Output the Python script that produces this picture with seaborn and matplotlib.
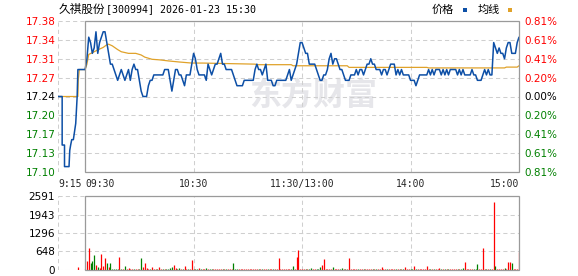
import numpy as np
import pandas as pd
import matplotlib
matplotlib.use("Agg")
import matplotlib.pyplot as plt
import seaborn as sns
from matplotlib.patches import Rectangle

# ---------------- data ----------------
title_cn = "久祺股份"
title_rest = "[300994] 2026-01-23 15:30"
legend_labels = ["价格", "均线"]
watermark = "东方财富"
prev_close = 17.24

price_ticks = [17.10, 17.135, 17.17, 17.205, 17.24, 17.275, 17.31, 17.345, 17.38]
price_tick_labels = ["17.10", "17.13", "17.17", "17.20", "17.24", "17.27", "17.31", "17.34", "17.38"]
pct_tick_labels = ["0.81%", "0.61%", "0.41%", "0.20%", "0.00%", "0.20%", "0.41%", "0.61%", "0.81%"]
vol_ticks = [0, 648, 1296, 1943, 2591]
vol_tick_labels = ["0", "648", "1296", "1943", "2591"]
time_ticks = [-15, 0, 60, 120, 180, 240]          # minutes from 09:30 (lunch compressed)
time_tick_labels = ["9:15", "09:30", "10:30", "11:30/13:00", "14:00", "15:00"]

# pre-market auction (9:15-9:30)
pre_t = [-15, -12.7, -12.7, -11.4, -11.4, -8.9, -8.5, -8.0, -7.4, -6.5, -5.2, -4.4, -4.0, 0]
pre_price = [17.24, 17.24, 17.15, 17.15, 17.11, 17.11, 17.14, 17.15, 17.16, 17.16, 17.19, 17.24, 17.29, 17.29]
pre_avg_t = [-15, -4.0, -3.8, -3.2, 0]
pre_avg = [17.24, 17.24, 17.27, 17.29, 17.29]
pre_vol_t = [-3.7]
pre_vol = [117]

# one value per minute, 09:30 .. 15:00 (241 points)
price = [
    17.29, 17.31, 17.35, 17.34, 17.32, 17.33, 17.36, 17.32, 17.34, 17.35,
    17.36, 17.36, 17.34, 17.32, 17.30, 17.30, 17.29, 17.28, 17.27, 17.28,
    17.29, 17.28, 17.27, 17.28, 17.29, 17.27, 17.29, 17.30, 17.29, 17.29,
    17.27, 17.25, 17.24, 17.24, 17.24, 17.26, 17.27, 17.27, 17.28, 17.28,
    17.28, 17.28, 17.28, 17.28, 17.29, 17.29, 17.29, 17.27, 17.25, 17.27,
    17.29, 17.29, 17.28, 17.28, 17.27, 17.26, 17.28, 17.28, 17.28, 17.30,
    17.32, 17.31, 17.29, 17.28, 17.28, 17.28, 17.28, 17.27, 17.30, 17.29,
    17.28, 17.29, 17.30, 17.30, 17.31, 17.32, 17.30, 17.30, 17.29, 17.29,
    17.29, 17.29, 17.28, 17.27, 17.26, 17.26, 17.26, 17.26, 17.27, 17.27,
    17.27, 17.27, 17.27, 17.27, 17.29, 17.30, 17.29, 17.29, 17.28, 17.29,
    17.30, 17.27, 17.27, 17.27, 17.26, 17.26, 17.27, 17.27, 17.27, 17.27,
    17.27, 17.27, 17.28, 17.29, 17.27, 17.28, 17.29, 17.30, 17.32, 17.34,
    17.34, 17.33, 17.32, 17.32, 17.30, 17.30, 17.30, 17.30, 17.29, 17.28,
    17.27, 17.27, 17.28, 17.28, 17.29, 17.31, 17.32, 17.30, 17.31, 17.31,
    17.30, 17.29, 17.29, 17.28, 17.27, 17.27, 17.27, 17.28, 17.28, 17.28,
    17.29, 17.28, 17.29, 17.29, 17.28, 17.29, 17.30, 17.30, 17.31, 17.30,
    17.30, 17.29, 17.29, 17.29, 17.28, 17.29, 17.29, 17.28, 17.29, 17.30,
    17.30, 17.30, 17.28, 17.29, 17.28, 17.29, 17.28, 17.28, 17.28, 17.28,
    17.27, 17.27, 17.27, 17.26, 17.27, 17.28, 17.28, 17.28, 17.28, 17.28,
    17.29, 17.28, 17.29, 17.28, 17.29, 17.29, 17.29, 17.28, 17.29, 17.28,
    17.29, 17.28, 17.29, 17.29, 17.29, 17.29, 17.28, 17.29, 17.28, 17.29,
    17.28, 17.28, 17.28, 17.28, 17.29, 17.28, 17.28, 17.27, 17.27, 17.27,
    17.28, 17.29, 17.28, 17.29, 17.28, 17.28, 17.34, 17.33, 17.32, 17.33,
    17.32, 17.32, 17.31, 17.33, 17.34, 17.34, 17.32, 17.32, 17.32, 17.34,
    17.35]

avg_t = [0, 1, 2, 5, 8, 10, 12, 13, 15, 18,
         20, 24, 28, 31, 33, 37, 41, 46, 52, 59,
         65, 94, 95, 114, 115, 145, 146, 189, 190, 232,
         233, 239, 240]
avg_v = [17.29, 17.30, 17.318, 17.323, 17.328, 17.331, 17.336, 17.337, 17.334, 17.327,
         17.323, 17.320, 17.320, 17.317, 17.313, 17.309, 17.308, 17.306, 17.304, 17.302,
         17.302, 17.300, 17.299, 17.299, 17.297, 17.297, 17.294, 17.294, 17.293, 17.293,
         17.2945, 17.2945, 17.297]

volume = [
    35, 315, 760, 257, 327, 525, 175, 93, 58, 560,
    140, 420, 245, 117, 245, 47, 47, 47, 47, 443,
    47, 47, 140, 47, 70, 47, 47, 35, 35, 35,
    35, 420, 117, 257, 58, 35, 35, 93, 35, 47,
    35, 93, 35, 35, 47, 35, 47, 82, 93, 175,
    82, 35, 82, 35, 35, 140, 35, 35, 35, 350,
    47, 35, 35, 70, 35, 35, 35, 58, 35, 35,
    35, 47, 35, 23, 35, 35, 23, 35, 35, 35,
    35, 35, 245, 35, 35, 23, 35, 35, 35, 35,
    35, 23, 35, 35, 35, 35, 35, 23, 35, 35,
    35, 35, 35, 23, 35, 35, 35, 420, 35, 35,
    35, 35, 23, 35, 47, 140, 35, 443, 700, 35,
    47, 35, 35, 35, 35, 70, 35, 35, 35, 35,
    93, 163, 385, 35, 35, 35, 35, 93, 35, 35,
    35, 35, 70, 35, 35, 35, 420, 35, 35, 35,
    35, 35, 23, 35, 35, 35, 35, 23, 35, 35,
    35, 35, 35, 35, 93, 35, 35, 35, 23, 35,
    35, 35, 35, 23, 35, 35, 35, 105, 35, 35,
    35, 35, 140, 35, 35, 23, 35, 35, 35, 140,
    35, 35, 23, 35, 35, 35, 70, 35, 35, 35,
    35, 35, 35, 23, 35, 35, 35, 35, 35, 70,
    280, 35, 35, 35, 23, 35, 35, 210, 35, 35,
    770, 35, 35, 35, 35, 35, 2380, 140, 35, 35,
    35, 35, 70, 35, 280, 280, 245, 35, 35, 35,
    640]
# r = up minute (red), g = down minute (green)
volume_dir = ("rrrgggrgrr" "rrgrgggggr" "grgrrrrgrr" "ggrrrrgrrr" "grrgrggggr"
              "rggrgrrgrr" "rggrgrrgrg" "grrrrrgrgr" "rrgggrrrrr" "rrrrrrgrgr"
              "rgrrgrrrrr" "rrrrggrrrr" "rrgrggrrgg" "grrrrrrgrr" "rggrgrrrrr"
              "rgrrgrrrrg" "rgrrrrrgrr" "rrgrgrgrrr" "ggrgrrrrrr" "rgrgrrrgrg"
              "rgrrrrgrgg" "rrrrrgggrr" "rrgrgrrgrr" "rrgrrrgrrr" "r")
pre_vol_dir = "r"

assert len(price) == 241 and len(volume) == 241 and len(volume_dir) == 241

# ---------------- style ----------------
sns.set_theme(style="white")
plt.rcParams["font.family"] = ["DejaVu Sans", "Noto Sans CJK SC"]

W, H = 578, 276
fig = plt.figure(figsize=(W / 100, H / 100), dpi=100)
fig.patch.set_facecolor("white")

BLUE = "#0d4fa6"
ORANGE = "#e0a22a"
RED = "#ff0000"
GREEN = "#008000"
BOX = "#9a9a9a"
GRID = "#cfcfcf"

def px_axes(x0, y0, x1, y1):
    return fig.add_axes([x0 / W, 1 - y1 / H, (x1 - x0) / W, (y1 - y0) / H])

ax = px_axes(58, 21, 519, 172)
axv = px_axes(58, 196, 519, 270)

main_t = np.arange(len(price))
df_price = pd.DataFrame({"t": list(pre_t) + list(main_t), "p": list(pre_price) + list(price),
                         "seg": ["pre"] * len(pre_t) + ["main"] * len(price)})
df_avg = pd.DataFrame({"t": list(pre_avg_t) + list(avg_t), "v": list(pre_avg) + list(avg_v),
                       "seg": ["pre"] * len(pre_avg_t) + ["main"] * len(avg_t)})

ylo, yhi = price_ticks[0], price_ticks[-1]
for a in (ax, axv):
    a.set_xlim(time_ticks[0], time_ticks[-1])
    for s in a.spines.values():
        s.set_visible(False)
    a.set_facecolor("white")

ax.set_ylim(ylo, yhi)
axv.set_ylim(vol_ticks[0], vol_ticks[-1])

# watermark
ax.text(313 / W, 1 - 97 / H, watermark, transform=fig.transFigure, ha="center", va="center",
        fontsize=23, fontweight="bold", color="#e6e6ea", family=["Noto Sans CJK SC"], zorder=0.5)

# lines
sns.lineplot(data=df_avg, x="t", y="v", units="seg", estimator=None, sort=False, ax=ax,
             color=ORANGE, linewidth=0.9, zorder=3)
sns.lineplot(data=df_price, x="t", y="p", units="seg", estimator=None, sort=False, ax=ax,
             color=BLUE, linewidth=1.1, zorder=4)

# volume bars
colmap = {"r": RED, "g": GREEN}
axv.vlines(main_t, 0, volume, colors=[colmap[c] for c in volume_dir], linewidth=0.9, zorder=3)
axv.vlines(pre_vol_t, 0, pre_vol, colors=[colmap[c] for c in pre_vol_dir], linewidth=0.9, zorder=3)

# grids
for a in (ax, axv):
    a.set_xticks(time_ticks)
    a.grid(True, color=GRID, linestyle=(0, (4, 3)), linewidth=0.75, zorder=1)
    a.set_axisbelow(True)
    a.tick_params(length=0)

ax.set_yticks(price_ticks)
ax.set_yticklabels(price_tick_labels, fontsize=7.5)
axv.set_yticks(vol_ticks)
axv.set_yticklabels(vol_tick_labels, fontsize=7.5, color="black")
ax.tick_params(axis="y", pad=2)
axv.tick_params(axis="y", pad=2)

def tick_color(v):
    if abs(v - prev_close) < 1e-9:
        return "black"
    return RED if v > prev_close else GREEN

for lab, v in zip(ax.get_yticklabels(), price_ticks):
    lab.set_color(tick_color(v))

ax2 = ax.twinx()
ax2.set_ylim(ylo, yhi)
ax2.set_yticks(price_ticks)
ax2.set_yticklabels(pct_tick_labels, fontsize=7.5)
ax2.tick_params(axis="y", length=0, pad=4)
for s in ax2.spines.values():
    s.set_visible(False)
for lab, v in zip(ax2.get_yticklabels(), price_ticks):
    lab.set_color(tick_color(v))

ax.set_xticklabels(time_tick_labels, fontsize=7, family="DejaVu Sans Mono")
for lab, ha in zip(ax.get_xticklabels(), ["left", "left", "center", "center", "center", "right"]):
    lab.set_ha(ha)
ax.tick_params(axis="x", pad=5)
axv.set_xticklabels([])
ax.set_xlabel("")
ax.set_ylabel("")
axv.set_xlabel("")
axv.set_ylabel("")

# solid frames over the trading session
ax.add_patch(Rectangle((0, ylo), 240, yhi - ylo, fill=False, edgecolor=BOX, linewidth=0.9,
                       zorder=6, clip_on=False))
axv.add_patch(Rectangle((0, vol_ticks[0]), 240, vol_ticks[-1] - vol_ticks[0], fill=False,
                        edgecolor=BOX, linewidth=0.9, zorder=6, clip_on=False))

# title
fig.text(59 / W, 1 - 9 / H, title_cn, ha="left", va="center", fontsize=8.4,
         family=["Noto Sans CJK SC"], color="black")
fig.text(106 / W, 1 - 9 / H, title_rest, ha="left", va="center", fontsize=7.2,
         family=["DejaVu Sans Mono"], color="black")

# legend
fig.text(442.5 / W, 1 - 9.5 / H, legend_labels[0], ha="center", va="center", fontsize=8,
         family=["Noto Sans CJK SC"], color="black")
fig.text(488.5 / W, 1 - 9.5 / H, legend_labels[1], ha="center", va="center", fontsize=8,
         family=["Noto Sans CJK SC"], color="black")
fig.add_artist(Rectangle((463 / W, 1 - 11.5 / H), 4 / W, 3.5 / H, transform=fig.transFigure,
                         facecolor=BLUE, edgecolor="none"))
fig.add_artist(Rectangle((508 / W, 1 - 11.5 / H), 4 / W, 3.5 / H, transform=fig.transFigure,
                         facecolor=ORANGE, edgecolor="none"))

fig.savefig("out.png", dpi=100, facecolor="white")
